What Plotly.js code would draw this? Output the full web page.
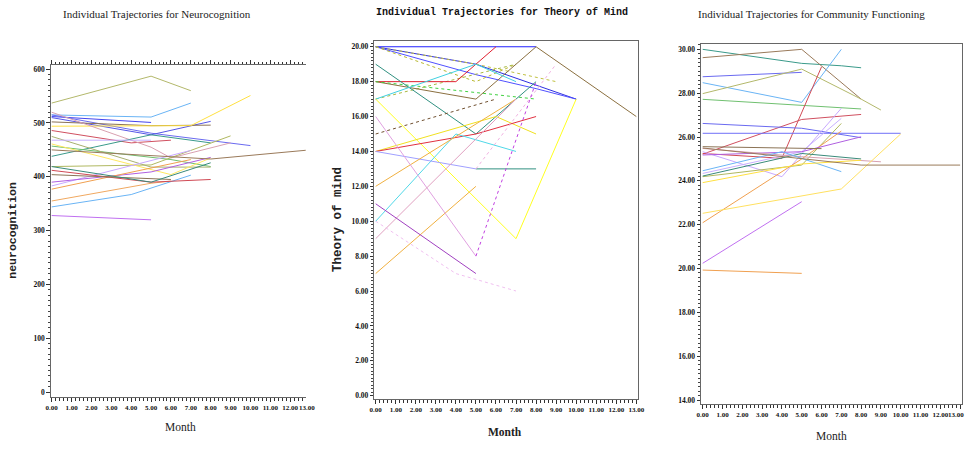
<!DOCTYPE html>
<html>
<head>
<meta charset="utf-8">
<script src="https://cdn.plot.ly/plotly-3.0.1.min.js"></script>
<style>html,body{margin:0;padding:0;background:#fff;}#chart{width:965px;height:449px;}</style>
</head>
<body>
<div id="chart"></div>
<script>
// ---------- Month tick labels ----------
const monthTicks = [0,1,2,3,4,5,6,7,8,9,10,11,12,13];
const monthTickText = ['0.00','1.00','2.00','3.00','4.00','5.00','6.00','7.00','8.00','9.00','10.00','11.00','12.00','13.00'];

// ---------- Panel 1: Neurocognition ----------
const neuroMonths = [
  [0,5,7],[0,5,7],[0,5],[0,5,10],[0,5,8],[0,5,8],[0,7,10],[0,4,6],[0,5,6,9],[0,5,8],
  [0,6,8],[0,5,9],[0,5,8],[0,6,8],[0,4,7],[0,5,8],[0,7],[0,5,6],[0,4,7],[0,5,8],
  [0,6],[0,5,8],[0,5],[0,8,13],[0,5]
];
const neuroValues = [
  [537,587,560],[515,511,537],[512,501],[515,481,458],[510,478,503],[502,495,496],[494,495,551],[486,463,468],[520,455,435,463],[438,478,463],
  [457,432,419],[419,422,476],[475,418,418],[461,404,435],[383,420,449],[390,409,436],[377,432],[355,388,392],[344,367,403],[412,390,395],
  [404,395],[419,390,426],[328,320],[450,433,450],[468,468]
];
const neuroColors = [
  '#b3b86b','#6ab4f5','#4444ee','#6a6af0','#5656e6','#8b7355','#ffe040','#d05060','#d8a0b0','#3a9a8a',
  '#70c070','#b0b860','#a8b070','#ffe860','#c8a8ff','#b060e0','#f0a050','#f0a860','#6ab4f5','#d04a55',
  '#8b7355','#3a8a7a','#c070f0','#9a7a5a','#c8b0ff'
];

// ---------- Panel 2: Theory of Mind ----------
const tomMonths = [
  [0,8],[0,5,10],[0,5,8,10],[0,5,7],[0,5,9],[0,7],[0,4,6],[0,5,8,13],[0,8],[0,5,8],
  [0,5,7],[0,6],[0,7,10],[0,6,8],[0,5,8],[0,4,7],[0,5],[5,8],[5,9],[0,7],
  [0,5],[0,5],[5,8],[0,7],[0,4,7],[0,5]
];
const tomValues = [
  [20,20],[20,19,17],[20,18.4,17.6,17],[20,18,19],[20,19,18],[17,19],[18,18,20],[18,17,20,16],[18,17],[19,15,18],
  [17,19,18],[15,17],[17,9,17],[14,16,15],[14,15,16],[10,15,14],[14,13],[13,13],[13,19],[12,17],
  [7,12],[16,8],[8,18],[9,17],[10,7,6],[11,7]
];
const tomColors = [
  '#2020ff','#3030e0','#5050ff','#b8b830','#c0c040','#a8b840','#e02030','#8b7040','#40d040','#309080',
  '#40d0e0','#705030','#ffff20','#f0e020','#e03040','#50d8e8','#a0a0ff','#309080','#f0b0e0','#f0b040',
  '#f0b040','#e0a0e0','#c040e0','#e0a0c0','#f0c0f0','#a040c0'
];
const tomDash = [
  'solid','solid','solid','dot','dot','dot','solid','solid','dot','solid',
  'solid','dot','solid','solid','solid','solid','solid','solid','dot','solid',
  'solid','solid','dot','solid','dot','solid'
];

// ---------- Panel 3: Community Functioning ----------
const cfMonths = [
  [0,5,7,8],[0,5,8],[0,5],[0,5,7],[0,5,8,9],[0,8],[0,5,8],[0,4,6],[0,5,8],[0,10],
  [0,4,7],[0,5,7],[0,5,7],[0,5,7],[0,5,8],[0,6],[0,5,8],[0,5,9],[0,4,7],[0,5,8],
  [0,7,10],[0,8,13],[0,5],[0,5]
];
const cfValues = [
  [30,29.36,29.25,29.16],[29.62,30,27.73],[28.75,28.95],[28.48,27.58,30],[27.98,29.1,27.73,27.23],[27.72,27.28],[25.22,26.8,27.03],[25.25,25.03,29.2],[26.62,26.4,25.97],[26.17,26.17],
  [25.33,24.19,27.31],[24.34,25.33,26.85],[24.19,24.72,26.62],[22.09,25.0,26.27],[25.18,25.33,26.01],[25.56,25.47],[24.22,25.25,25.0],[25.48,25.1,24.87],[24.46,25.33,24.42],[23.92,24.77,24.94],
  [22.52,23.63,26.14],[25.5,24.72,24.72],[20.24,23.05],[19.93,19.78]
];
const cfColors = [
  '#3a9a8a','#9a7a5a','#6a6af0','#6ab4f5','#b3b86b','#70c070','#d05060','#d04a55','#6a6af0','#7070f8',
  '#c8a8ff','#c8b0ff','#b0b860','#f0a050','#b060e0','#8b7355','#3a8a7a','#d8a0b0','#6ab4f5','#ffe040',
  '#ffe060','#9a7a5a','#c070f0','#f0a050'
];

const traces = [];
function addPanel(months, values, colors, dashes, xa, ya) {
  for (let i = 0; i < months.length; i++) {
    traces.push({
      type: 'scatter', mode: 'lines', x: months[i], y: values[i],
      xaxis: xa, yaxis: ya, showlegend: false, hoverinfo: 'skip',
      line: {color: colors[i], width: 1, dash: dashes ? dashes[i] : 'solid'}
    });
  }
}
addPanel(neuroMonths, neuroValues, neuroColors, null, 'x', 'y');
addPanel(tomMonths, tomValues, tomColors, tomDash, 'x2', 'y2');
addPanel(cfMonths, cfValues, cfColors, null, 'x3', 'y3');

const W = 965, H = 449;
const px = v => v / W;
const py = v => 1 - v / H;
const tickFont = {family: 'Liberation Serif', size: 7.5, color: '#111', weight: 'bold'};
const xTickFont = {family: 'Liberation Serif', size: 7, color: '#111', weight: 'bold'};
const axisCommon = {
  showgrid: false, zeroline: false, showline: true, linecolor: '#666', linewidth: 1,
  ticks: 'outside', ticklen: 4, tickwidth: 1, tickcolor: '#333', tickfont: tickFont, tickangle: 0,
  fixedrange: true
};
function xAxis(domain, range, mirror, anchor, lastLabel) {
  const txt = monthTickText.slice();
  if (!lastLabel) txt[txt.length - 1] = '';
  return Object.assign({}, axisCommon, {
    domain: domain, range: range, anchor: anchor, tickmode: 'array',
    tickvals: monthTicks, ticktext: txt, mirror: mirror, tickfont: xTickFont,
    minor: {tickmode: 'linear', tick0: 0, dtick: 0.2, ticklen: 2.5, tickcolor: '#333', tickwidth: 1, ticks: 'outside', showgrid: false}
  });
}
function yAxis(domain, range, dtick, fmt, minorDt, mirror, anchor) {
  return Object.assign({}, axisCommon, {
    domain: domain, range: range, anchor: anchor, tickmode: 'linear', tick0: 0, dtick: dtick,
    tickformat: fmt, mirror: mirror, ticklen: 3.5,
    minor: {dtick: minorDt, ticklen: 2, tickcolor: '#444', tickwidth: 1, ticks: 'outside', showgrid: false}
  });
}

const layout = {
  width: W, height: H, margin: {l: 0, r: 0, t: 0, b: 0},
  paper_bgcolor: '#fff', plot_bgcolor: '#fff', showlegend: false,
  xaxis: xAxis([px(50.7), px(305.7)], [-0.05, 12.78], 'allticks', 'y', false),
  yaxis: yAxis([py(397), py(65.3)], [-9.3, 607.2], 100, 'd', 10, false, 'x'),
  xaxis2: xAxis([px(374.3), px(637.7)], [-0.07, 13.07], true, 'y2', true),
  yaxis2: yAxis([py(399), py(41)], [-0.19, 20.33], 2, '.2f', 0.2, true, 'x2'),
  xaxis3: xAxis([px(701), px(961.5)], [-0.086, 13.07], true, 'y3', false),
  yaxis3: yAxis([py(404), py(44.3)], [13.82, 30.23], 2, '.2f', 0.2, true, 'x3'),
  annotations: [
    {text: 'Individual Trajectories for Neurocognition', x: px(156.5), y: py(13.5), xref: 'paper', yref: 'paper',
     showarrow: false, xanchor: 'center', yanchor: 'middle', font: {family: 'Liberation Serif', size: 11, color: '#222'}},
    {text: 'Individual Trajectories for Theory of Mind', x: px(501.5), y: py(12.5), xref: 'paper', yref: 'paper',
     showarrow: false, xanchor: 'center', yanchor: 'middle', font: {family: 'Liberation Mono', size: 10, color: '#111', weight: 'bold'}},
    {text: 'Individual Trajectories for Community Functioning', x: px(811.5), y: py(14), xref: 'paper', yref: 'paper',
     showarrow: false, xanchor: 'center', yanchor: 'middle', font: {family: 'Liberation Serif', size: 11, color: '#222'}},
    {text: monthTickText[13], x: px(297.5), y: py(407.5), xref: 'paper', yref: 'paper', showarrow: false,
     xanchor: 'left', yanchor: 'middle', borderpad: 0, font: xTickFont},
    {text: monthTickText[13], x: px(965), y: py(414.5), xref: 'paper', yref: 'paper', showarrow: false,
     xanchor: 'right', yanchor: 'middle', borderpad: 0, font: xTickFont},
    {text: 'Month', x: px(180), y: py(427), xref: 'paper', yref: 'paper', showarrow: false,
     xanchor: 'center', yanchor: 'middle', font: {family: 'Liberation Serif', size: 11.5, color: '#222'}},
    {text: 'Month', x: px(505), y: py(432), xref: 'paper', yref: 'paper', showarrow: false,
     xanchor: 'center', yanchor: 'middle', font: {family: 'Liberation Serif', size: 11.5, color: '#222', weight: 'bold'}},
    {text: 'Month', x: px(831), y: py(436), xref: 'paper', yref: 'paper', showarrow: false,
     xanchor: 'center', yanchor: 'middle', font: {family: 'Liberation Serif', size: 11.5, color: '#222'}},
    {text: 'neurocognition', x: px(11.7), y: py(230), xref: 'paper', yref: 'paper', showarrow: false, textangle: -90,
     xanchor: 'center', yanchor: 'middle', font: {family: 'Liberation Mono', size: 11.5, color: '#222', weight: 'bold'}},
    {text: 'Theory of mind', x: px(338), y: py(220), xref: 'paper', yref: 'paper', showarrow: false, textangle: -90,
     xanchor: 'center', yanchor: 'middle', font: {family: 'Liberation Mono', size: 12.5, color: '#222', weight: 'bold'}}
  ]
};

Plotly.newPlot('chart', traces, layout, {staticPlot: true, displayModeBar: false});
</script>
</body>
</html>
